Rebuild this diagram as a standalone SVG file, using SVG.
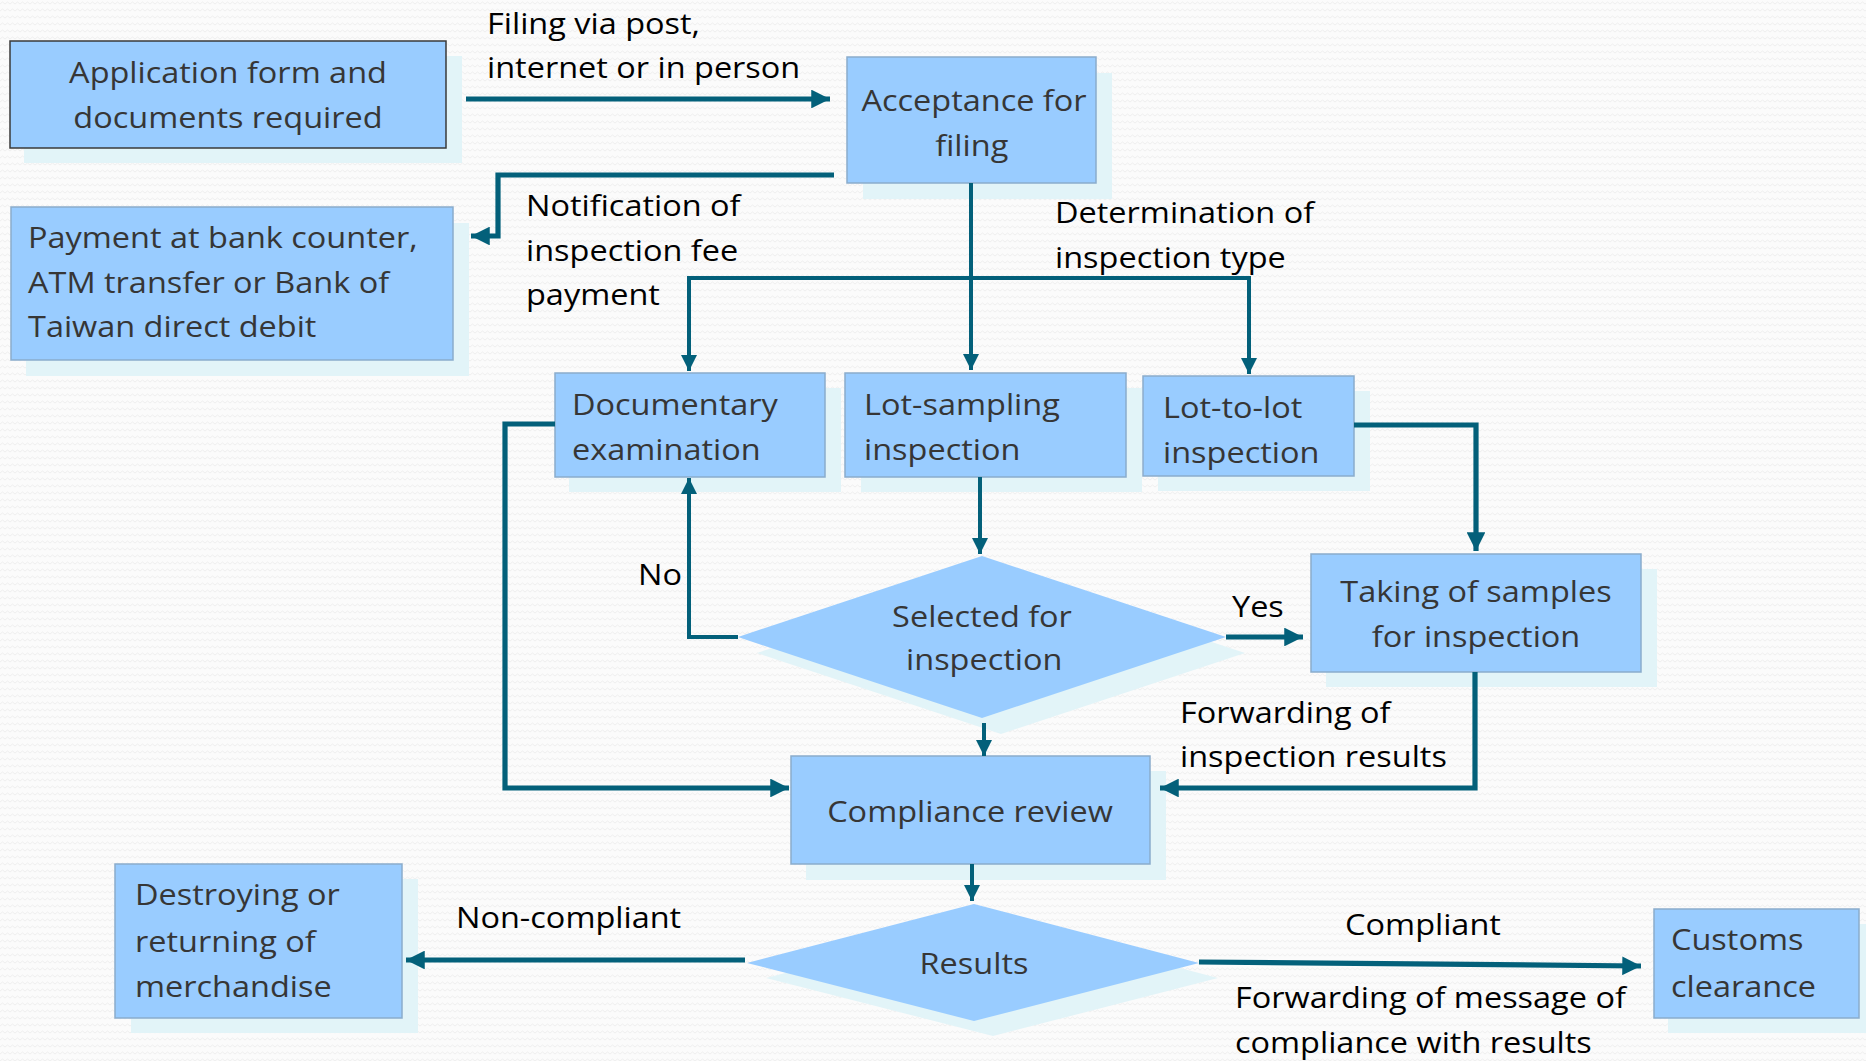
<svg xmlns="http://www.w3.org/2000/svg" width="1866" height="1061" viewBox="0 0 1866 1061">
<defs>
<pattern id="bg" width="10" height="7" patternUnits="userSpaceOnUse">
<rect width="10" height="7" fill="#fbfbfb"/>
<path d="M0,4 L2.5,2 L5,4 L7.5,2 L10,4" fill="none" stroke="#efefef" stroke-width="1"/>
</pattern>
<marker id="ah" viewBox="0 0 10 10" refX="10" refY="5" markerWidth="3.6" markerHeight="3.6" orient="auto" markerUnits="strokeWidth">
<path d="M0,0 L10,5 L0,10 z" fill="#03607a"/>
</marker>
<marker id="ah2" viewBox="0 0 10 10" refX="10" refY="5" markerWidth="4" markerHeight="4" orient="auto" markerUnits="strokeWidth">
<path d="M0,0 L10,5 L0,10 z" fill="#03607a"/>
</marker>
<style>
.box{fill:#99ccff;stroke:#8aaccc;stroke-width:1.5}
.box0{fill:#99ccff;stroke:#3a3a3a;stroke-width:1.5}
.sh{fill:#e2f4f8}
.nt{font-family:"Open Sans",Lato,sans-serif;font-size:29px;fill:#363636}
.lb{font-family:"Open Sans",Lato,sans-serif;font-size:29px;fill:#000}
.m{text-anchor:middle}
.ca{fill:none;stroke:#03607a;stroke-width:5.2;marker-end:url(#ah)}
.ct{fill:none;stroke:#03607a;stroke-width:4;marker-end:url(#ah2)}
</style>
</defs>
<rect width="1866" height="1061" fill="url(#bg)"/>

<g id="n-application">
<rect class="sh" x="24" y="56" width="438" height="107"/>
<rect class="box0" x="10" y="41" width="436" height="107"/>
<text class="nt m" transform="translate(228 0) scale(1.12 1)"><tspan x="0" y="83">Application form and</tspan><tspan x="0" y="128">documents required</tspan></text>
</g>
<g id="n-acceptance">
<rect class="sh" x="863" y="73" width="249" height="126"/>
<rect class="box" x="847" y="57" width="249" height="126"/>
<text class="nt m" transform="translate(974 0) scale(1.12 1)"><tspan x="0" y="111">Acceptance for</tspan><tspan x="-2" y="156">filing</tspan></text>
</g>
<g id="n-payment">
<rect class="sh" x="26" y="223" width="443" height="153"/>
<rect class="box" x="11" y="207" width="442" height="153"/>
<text class="nt" transform="translate(28 0) scale(1.12 1)"><tspan x="0" y="248">Payment at bank counter,</tspan><tspan x="0" y="293">ATM transfer or Bank of</tspan><tspan x="0" y="337">Taiwan direct debit</tspan></text>
</g>
<g id="n-documentary">
<rect class="sh" x="569" y="388" width="272" height="104"/>
<rect class="box" x="555" y="373" width="270" height="104"/>
<text class="nt" transform="translate(572 0) scale(1.12 1)"><tspan x="0" y="415">Documentary</tspan><tspan x="0" y="460">examination</tspan></text>
</g>
<g id="n-lotsampling">
<rect class="sh" x="861" y="388" width="281" height="104"/>
<rect class="box" x="845" y="373" width="281" height="104"/>
<text class="nt" transform="translate(864 0) scale(1.12 1)"><tspan x="0" y="415">Lot-sampling</tspan><tspan x="0" y="460">inspection</tspan></text>
</g>
<g id="n-lottolot">
<rect class="sh" x="1158" y="391" width="212" height="100"/>
<rect class="box" x="1143" y="376" width="211" height="100"/>
<text class="nt" transform="translate(1163 0) scale(1.12 1)"><tspan x="0" y="418">Lot-to-lot</tspan><tspan x="0" y="463">inspection</tspan></text>
</g>
<g id="n-selected">
<polygon class="sh" points="757,653 1001,572 1245,653 1001,734"/>
<polygon fill="#99ccff" points="738,637 982,556 1226,637 982,718"/>
<text class="nt m" transform="translate(982 0) scale(1.12 1)"><tspan x="0" y="627">Selected for</tspan><tspan x="2" y="670">inspection</tspan></text>
</g>
<g id="n-taking">
<rect class="sh" x="1326" y="569" width="331" height="118"/>
<rect class="box" x="1311" y="554" width="330" height="118"/>
<text class="nt m" transform="translate(1476 0) scale(1.12 1)"><tspan x="0" y="602">Taking of samples</tspan><tspan x="0" y="647">for inspection</tspan></text>
</g>
<g id="n-compliance">
<rect class="sh" x="806" y="771" width="360" height="109"/>
<rect class="box" x="791" y="756" width="359" height="108"/>
<text class="nt m" transform="translate(970 0) scale(1.12 1)" x="0" y="822">Compliance review</text>
</g>
<g id="n-results">
<polygon class="sh" points="766,978 993,919 1218,978 993,1036"/>
<polygon fill="#99ccff" points="747,963 974,904 1199,963 974,1021"/>
<text class="nt m" transform="translate(974 0) scale(1.12 1)" x="0" y="974">Results</text>
</g>
<g id="n-destroying">
<rect class="sh" x="131" y="879" width="287" height="154"/>
<rect class="box" x="115" y="864" width="287" height="154"/>
<text class="nt" transform="translate(135 0) scale(1.12 1)"><tspan x="0" y="905">Destroying or</tspan><tspan x="0" y="952">returning of</tspan><tspan x="0" y="997">merchandise</tspan></text>
</g>
<g id="n-customs">
<rect class="sh" x="1668" y="924" width="198" height="109"/>
<rect class="box" x="1654" y="909" width="205" height="109"/>
<text class="nt" transform="translate(1671 0) scale(1.12 1)"><tspan x="0" y="950">Customs</tspan><tspan x="0" y="997">clearance</tspan></text>
</g>

<g id="connectors">
<path class="ca" d="M466,99 L830,99"/>
<path class="ca" d="M834,175 L498,175 L498,236 L471,236"/>
<path class="ct" d="M971,183 L971,370"/>
<path class="ct" d="M820,278 L689,278 L689,371"/>
<path class="ct" d="M689,278 L1249,278 L1249,374"/>
<path class="ct" d="M980,477 L980,554"/>
<path class="ct" d="M738,637 L689,637 L689,478"/>
<path class="ca" d="M1226,637 L1303,637"/>
<path class="ca" d="M1354,425 L1476,425 L1476,551"/>
<path class="ct" d="M984,723 L984,756"/>
<path class="ca" d="M555,424 L505,424 L505,788 L789,788"/>
<path class="ca" d="M1475,672 L1475,788 L1160,788"/>
<path class="ct" d="M972,864 L972,901"/>
<path class="ca" d="M745,960 L406,960"/>
<path class="ca" d="M1199,962 L1641,966"/>
</g>

<g id="labels">
<text class="lb" transform="translate(487 0) scale(1.12 1)"><tspan x="0" y="34">Filing via post,</tspan><tspan x="0" y="78">internet or in person</tspan></text>
<text class="lb" transform="translate(526 0) scale(1.12 1)"><tspan x="0" y="216">Notification of</tspan><tspan x="0" y="261">inspection fee</tspan><tspan x="0" y="305">payment</tspan></text>
<text class="lb" transform="translate(1055 0) scale(1.12 1)"><tspan x="0" y="223">Determination of</tspan><tspan x="0" y="268">inspection type</tspan></text>
<text class="lb" transform="translate(638 0) scale(1.12 1)" x="0" y="585">No</text>
<text class="lb" transform="translate(1232 0) scale(1.12 1)" x="0" y="617">Yes</text>
<text class="lb" transform="translate(1180 0) scale(1.12 1)"><tspan x="0" y="723">Forwarding of</tspan><tspan x="0" y="767">inspection results</tspan></text>
<text class="lb" transform="translate(456 0) scale(1.12 1)" x="0" y="928">Non-compliant</text>
<text class="lb m" transform="translate(1423 0) scale(1.12 1)" x="0" y="935">Compliant</text>
<text class="lb" transform="translate(1235 0) scale(1.12 1)"><tspan x="0" y="1008">Forwarding of message of</tspan><tspan x="0" y="1053">compliance with results</tspan></text>
</g>
</svg>
